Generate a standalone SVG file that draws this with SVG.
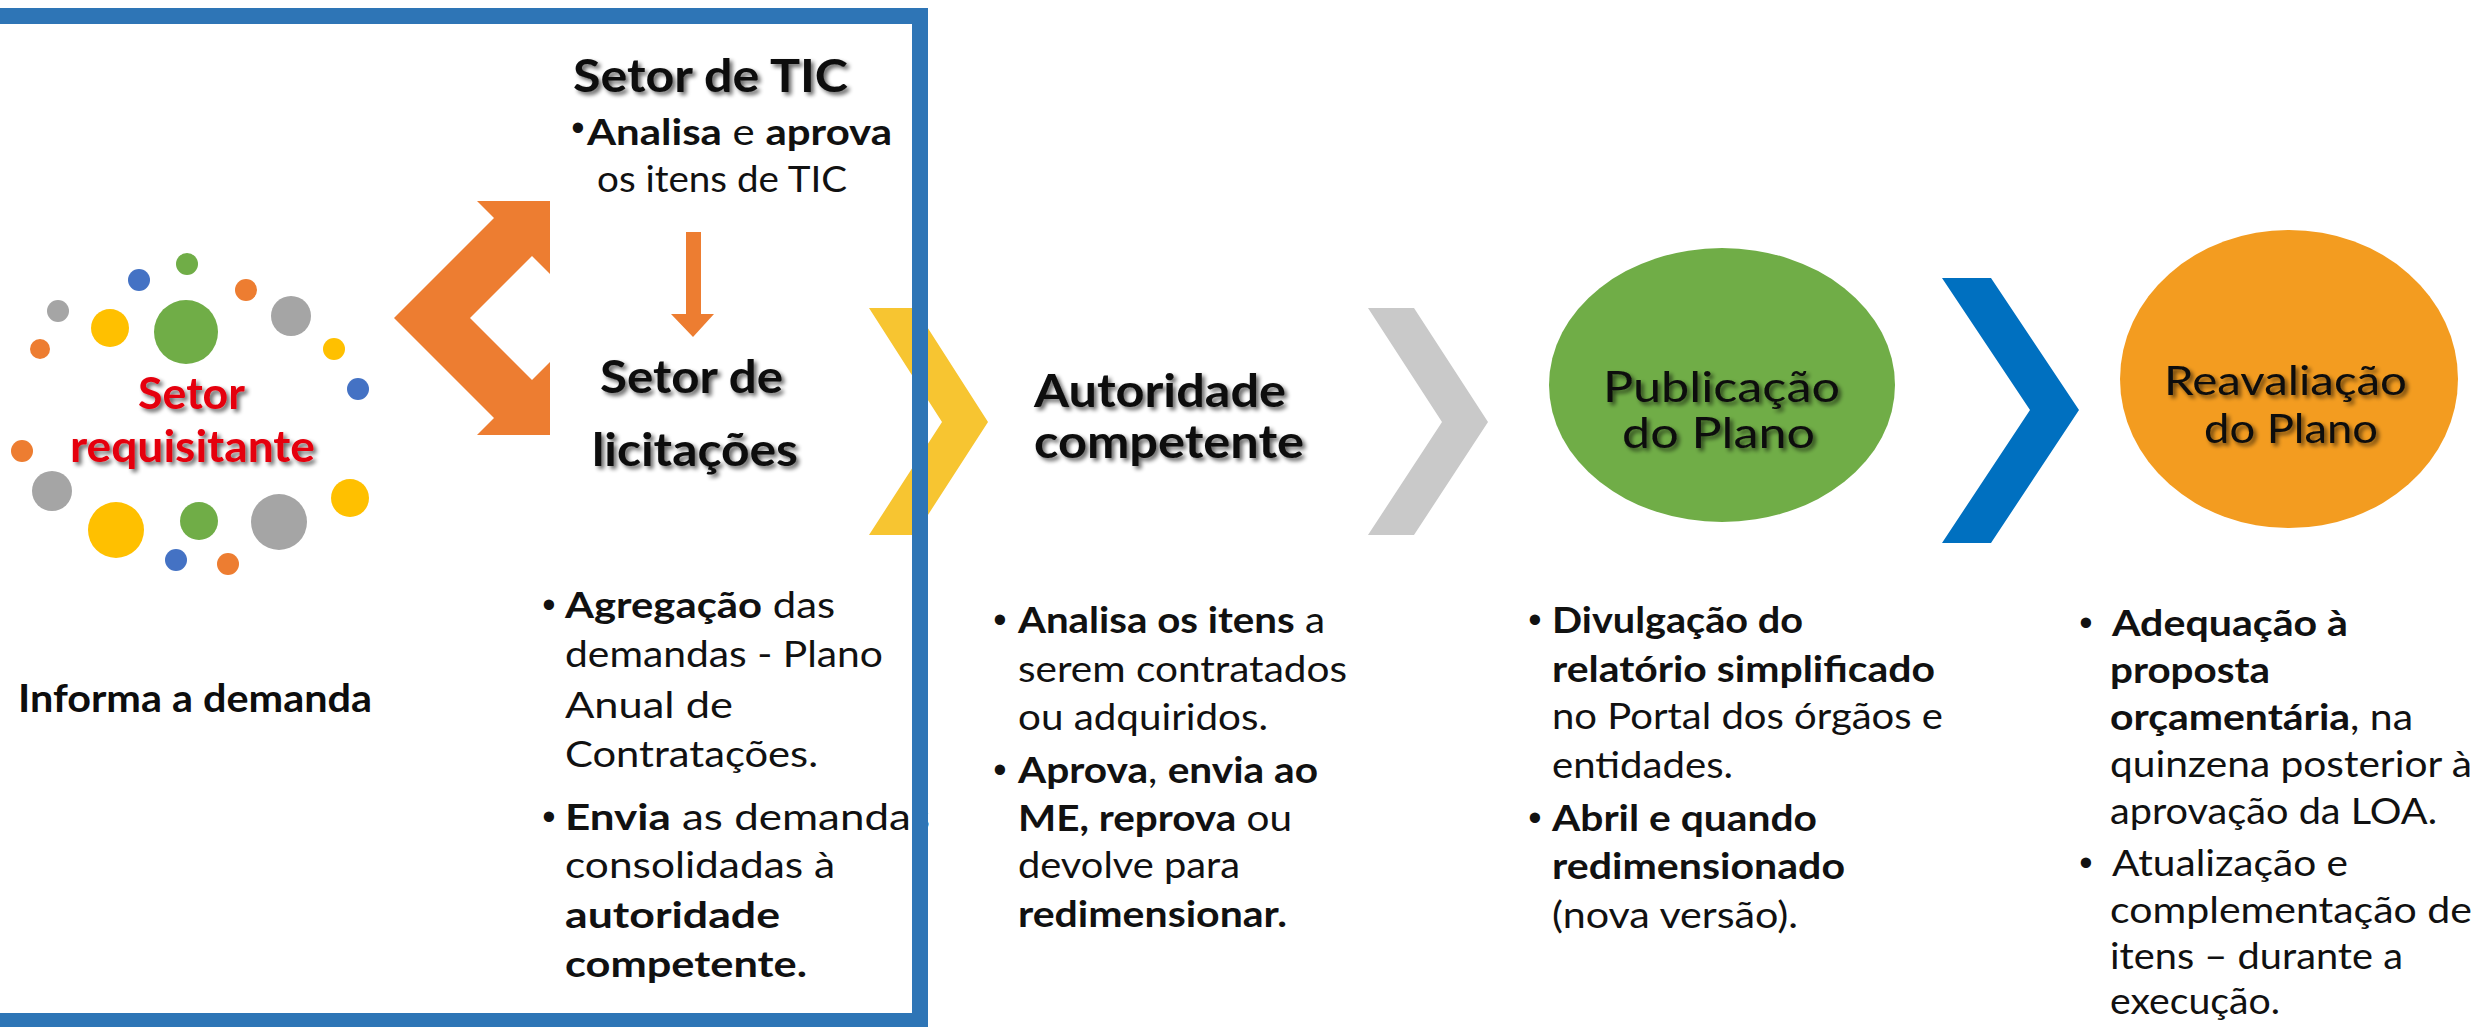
<svg xmlns="http://www.w3.org/2000/svg" width="2476" height="1027" viewBox="0 0 2476 1027">
<defs>
<style>
.t{font-family:Lato,'Open Sans','Liberation Sans',sans-serif;font-size:37px;fill:#111}
.bd{font-weight:700}
.h{font-family:Lato,'Open Sans','Liberation Sans',sans-serif;font-weight:700;fill:#0d0d0d}
.hr{font-family:Lato,'Open Sans','Liberation Sans',sans-serif;font-weight:400;fill:#0d0d0d}
.bul{font-family:'Liberation Sans',Arial,sans-serif;font-size:38px;fill:#111}
.red{fill:#E5000F}
.dg{fill:#70AD47}.db{fill:#4472C4}.do{fill:#ED7D31}.dy{fill:#FFC000}.dx{fill:#A5A5A5}
</style>
<filter id="sh" x="-10%" y="-20%" width="130%" height="150%">
<feGaussianBlur in="SourceAlpha" stdDeviation="2"/>
<feOffset dx="3" dy="3" result="o"/>
<feComponentTransfer><feFuncA type="linear" slope="0.6"/></feComponentTransfer>
<feMerge><feMergeNode/><feMergeNode in="SourceGraphic"/></feMerge>
</filter>
</defs>
<rect width="2476" height="1027" fill="#ffffff"/>

<g id="connectors">
<path id="arrow-requisitante" fill="#ED7D31" d="M394,318 L494,218 L477,201 L550,201 L550,274 L532,256 L470,318 L532,380 L550,362 L550,435 L477,435 L494,418 Z"/>
<path id="arrow-tic-licitacoes" fill="#ED7D31" d="M686,232 L701,232 L701,314 L714,314 L693,337 L671,314 L686,314 Z"/>
<path id="chevron-yellow" fill="#F7C531" d="M869,308 L915,308 L988,422 L915,535 L869,535 L942,422 Z"/>
<path id="chevron-gray" fill="#C9C9C9" d="M1368,308 L1414,308 L1488,422 L1414,535 L1368,535 L1442,422 Z"/>
<path id="chevron-blue" fill="#0070C0" d="M1942,278 L1991,278 L2079,410 L1991,543 L1942,543 L2030,410 Z"/>
</g>

<g id="node-requisitante">
<circle class="dg" cx="187" cy="264" r="11"/>
<circle class="db" cx="139" cy="280" r="11"/>
<circle class="do" cx="246" cy="290" r="11"/>
<circle class="dx" cx="58" cy="311" r="11"/>
<circle class="dy" cx="110" cy="328" r="19"/>
<circle class="dg" cx="186" cy="332" r="32"/>
<circle class="dx" cx="291" cy="316" r="20"/>
<circle class="do" cx="40" cy="349" r="10"/>
<circle class="dy" cx="334" cy="349" r="11"/>
<circle class="db" cx="358" cy="389" r="11"/>
<circle class="do" cx="22" cy="451" r="11"/>
<circle class="dx" cx="52" cy="491" r="20"/>
<circle class="dy" cx="350" cy="498" r="19"/>
<circle class="dy" cx="116" cy="530" r="28"/>
<circle class="dg" cx="199" cy="521" r="19"/>
<circle class="dx" cx="279" cy="522" r="28"/>
<circle class="db" cx="176" cy="560" r="11"/>
<circle class="do" cx="228" cy="564" r="11"/>
<g filter="url(#sh)">
<text class="h red" x="138" y="409" font-size="43" textLength="107" lengthAdjust="spacingAndGlyphs">Setor</text>
<text class="h red" x="70" y="462" font-size="43" textLength="245" lengthAdjust="spacingAndGlyphs">requisitante</text>
</g>
<text class="h" x="18" y="712" font-size="39" textLength="354" lengthAdjust="spacingAndGlyphs">Informa a demanda</text>
</g>

<g id="node-tic">
<text class="h" x="573" y="92" font-size="45" filter="url(#sh)" textLength="275" lengthAdjust="spacingAndGlyphs">Setor de TIC</text>
<text class="bul" x="578" y="141" font-size="24" text-anchor="middle">•</text>
<text class="t" x="587" y="145" font-size="40" textLength="305" lengthAdjust="spacingAndGlyphs"><tspan class="bd">Analisa</tspan> e <tspan class="bd">aprova</tspan></text>
<text class="t" x="597" y="192" font-size="39" textLength="250" lengthAdjust="spacingAndGlyphs">os itens de TIC</text>
</g>

<g id="node-licitacoes">
<g filter="url(#sh)">
<text class="h" x="600" y="393" font-size="45" textLength="183" lengthAdjust="spacingAndGlyphs">Setor de</text>
<text class="h" x="592" y="466" font-size="45" textLength="206" lengthAdjust="spacingAndGlyphs">licitações</text>
</g>
<text class="bul" x="549" y="618" text-anchor="middle">•</text>
<text class="t" x="565" y="618" textLength="270" lengthAdjust="spacingAndGlyphs"><tspan class="bd">Agregação</tspan> das</text>
<text class="t" x="565" y="667" textLength="318" lengthAdjust="spacingAndGlyphs">demandas - Plano</text>
<text class="t" x="565" y="718" textLength="168" lengthAdjust="spacingAndGlyphs">Anual de</text>
<text class="t" x="565" y="767" textLength="253" lengthAdjust="spacingAndGlyphs">Contratações.</text>
<text class="bul" x="549" y="830" text-anchor="middle">•</text>
<text class="t" x="565" y="830" textLength="365" lengthAdjust="spacingAndGlyphs"><tspan class="bd">Envia</tspan> as demandas</text>
<text class="t" x="565" y="878" textLength="270" lengthAdjust="spacingAndGlyphs">consolidadas à</text>
<text class="t bd" x="565" y="928" textLength="215" lengthAdjust="spacingAndGlyphs">autoridade</text>
<text class="t bd" x="565" y="977" textLength="242" lengthAdjust="spacingAndGlyphs">competente.</text>
</g>

<g id="node-autoridade">
<g filter="url(#sh)">
<text class="h" x="1034" y="407" font-size="45" textLength="252" lengthAdjust="spacingAndGlyphs">Autoridade</text>
<text class="h" x="1034" y="458" font-size="45" textLength="270" lengthAdjust="spacingAndGlyphs">competente</text>
</g>
<text class="bul" x="1000" y="633" text-anchor="middle">•</text>
<text class="t" x="1018" y="633" textLength="307" lengthAdjust="spacingAndGlyphs"><tspan class="bd">Analisa os itens</tspan> a</text>
<text class="t" x="1018" y="682" textLength="329" lengthAdjust="spacingAndGlyphs">serem contratados</text>
<text class="t" x="1018" y="730" textLength="250" lengthAdjust="spacingAndGlyphs">ou adquiridos.</text>
<text class="bul" x="1000" y="783" text-anchor="middle">•</text>
<text class="t" x="1018" y="783" textLength="300" lengthAdjust="spacingAndGlyphs"><tspan class="bd">Aprova</tspan>, <tspan class="bd">envia ao</tspan></text>
<text class="t" x="1018" y="831" textLength="274" lengthAdjust="spacingAndGlyphs"><tspan class="bd">ME, reprova</tspan> ou</text>
<text class="t" x="1018" y="878" textLength="222" lengthAdjust="spacingAndGlyphs">devolve para</text>
<text class="t bd" x="1018" y="927" textLength="269" lengthAdjust="spacingAndGlyphs">redimensionar.</text>
</g>

<g id="node-publicacao">
<ellipse cx="1722" cy="385" rx="173" ry="137" fill="#70AD47"/>
<g filter="url(#sh)">
<text class="hr" x="1603" y="402" font-size="43" textLength="237" lengthAdjust="spacingAndGlyphs">Publicação</text>
<text class="hr" x="1622" y="448" font-size="43" textLength="193" lengthAdjust="spacingAndGlyphs">do Plano</text>
</g>
<text class="bul" x="1535" y="633" text-anchor="middle">•</text>
<text class="t bd" x="1552" y="633" textLength="251" lengthAdjust="spacingAndGlyphs">Divulgação do</text>
<text class="t bd" x="1552" y="682" textLength="383" lengthAdjust="spacingAndGlyphs">relatório simplificado</text>
<text class="t" x="1552" y="729" textLength="391" lengthAdjust="spacingAndGlyphs">no Portal dos órgãos e</text>
<text class="t" x="1552" y="778" textLength="181" lengthAdjust="spacingAndGlyphs">entidades.</text>
<text class="bul" x="1535" y="831" text-anchor="middle">•</text>
<text class="t bd" x="1552" y="831" textLength="265" lengthAdjust="spacingAndGlyphs">Abril e quando</text>
<text class="t bd" x="1552" y="879" textLength="293" lengthAdjust="spacingAndGlyphs">redimensionado</text>
<text class="t" x="1552" y="928" textLength="246" lengthAdjust="spacingAndGlyphs">(nova versão).</text>
</g>

<g id="node-reavaliacao">
<ellipse cx="2289" cy="379" rx="169" ry="149" fill="#F39C20"/>
<g filter="url(#sh)">
<text class="hr" x="2164" y="395" font-size="41" textLength="243" lengthAdjust="spacingAndGlyphs">Reavaliação</text>
<text class="hr" x="2204" y="443" font-size="41" textLength="174" lengthAdjust="spacingAndGlyphs">do Plano</text>
</g>
<text class="bul" x="2086" y="636" text-anchor="middle">•</text>
<text class="t bd" x="2112" y="636" textLength="236" lengthAdjust="spacingAndGlyphs">Adequação à</text>
<text class="t bd" x="2110" y="683" textLength="160" lengthAdjust="spacingAndGlyphs">proposta</text>
<text class="t" x="2110" y="730" textLength="303" lengthAdjust="spacingAndGlyphs"><tspan class="bd">orçamentária</tspan>, na</text>
<text class="t" x="2110" y="777" textLength="362" lengthAdjust="spacingAndGlyphs">quinzena posterior à</text>
<text class="t" x="2110" y="824" textLength="327" lengthAdjust="spacingAndGlyphs">aprovação da LOA.</text>
<text class="bul" x="2086" y="876" text-anchor="middle">•</text>
<text class="t" x="2112" y="876" textLength="236" lengthAdjust="spacingAndGlyphs">Atualização e</text>
<text class="t" x="2110" y="923" textLength="362" lengthAdjust="spacingAndGlyphs">complementação de</text>
<text class="t" x="2110" y="969" textLength="293" lengthAdjust="spacingAndGlyphs">itens – durante a</text>
<text class="t" x="2110" y="1014" textLength="170" lengthAdjust="spacingAndGlyphs">execução.</text>
</g>

<g id="frame">
<rect x="-20" y="16" width="940" height="1005" fill="none" stroke="#2E75B6" stroke-width="16"/>
</g>
</svg>
